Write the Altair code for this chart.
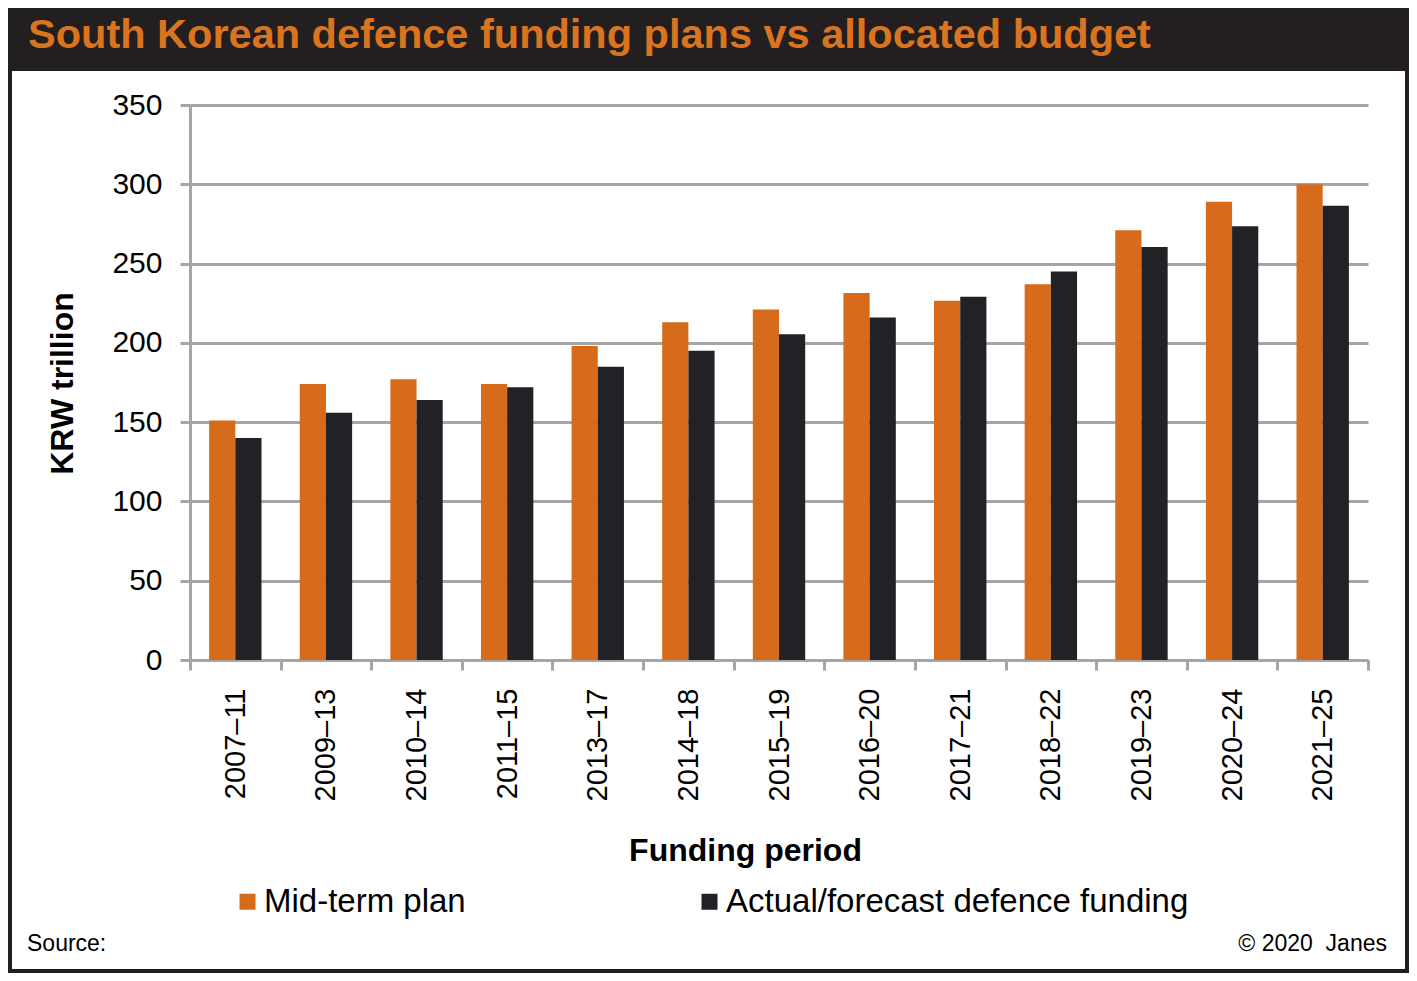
import altair as alt
import pandas as pd

periods = ["2007–11", "2009–13", "2010–14", "2011–15", "2013–17", "2014–18", "2015–19",
           "2016–20", "2017–21", "2018–22", "2019–23", "2020–24", "2021–25"]
series_names = ["Mid-term plan", "Actual/forecast defence funding"]
mid_term_plan = [151, 174, 177, 174, 198, 213, 221, 231.5, 226.5, 237, 271, 289, 300]
actual_funding = [140, 156, 164, 172, 185, 195, 205.5, 216, 229, 245, 260.5, 273.5, 286.5]
y_ticks = [0, 50, 100, 150, 200, 250, 300, 350]

title_text = "South Korean defence funding plans vs allocated budget"
source_text = "Source:"
copyright_text = "© 2020\u00a0 Janes"

ORANGE = "#D56B1B"
TITLE_ORANGE = "#DA741F"
DARK = "#222226"
GRID = "#A6A6A6"
FONT = "Liberation Sans"

rows = []
for p, a, b in zip(periods, mid_term_plan, actual_funding):
    rows.append({"period": p, "series": series_names[0], "value": a})
    rows.append({"period": p, "series": series_names[1], "value": b})
df = pd.DataFrame(rows)
one = pd.DataFrame({"k": [0]})

W, H = 1178, 555

bars = alt.Chart(df).mark_bar().encode(
    x=alt.X("period:N", sort=periods,
            scale=alt.Scale(paddingInner=0, paddingOuter=0),
            axis=alt.Axis(title="Funding period", labelAngle=-90, labelFontSize=29,
                          labelFont=FONT, labelColor="black", labelPadding=18,
                          tickBand="extent", tickSize=10, tickWidth=3, tickColor=GRID,
                          domainColor=GRID, domainWidth=3, grid=False,
                          titleFont=FONT, titleFontSize=32, titleFontWeight="bold",
                          titleColor="black", titleX=555, titleY=200,
                          titleBaseline="alphabetic", titleAlign="center")),
    xOffset=alt.XOffset("series:N", sort=series_names,
                        scale=alt.Scale(paddingOuter=0.73, paddingInner=0)),
    y=alt.Y("value:Q", scale=alt.Scale(domain=[0, 350], nice=False),
            axis=alt.Axis(title="KRW trillion", values=y_ticks, labelFontSize=30,
                          labelFont=FONT, labelColor="black", labelPadding=18,
                          tickSize=10, tickWidth=3, tickColor=GRID,
                          domainColor=GRID, domainWidth=3,
                          grid=True, gridColor=GRID, gridWidth=3,
                          titleFont=FONT, titleFontSize=32, titleFontWeight="bold",
                          titleColor="black", titleX=-118, titleY=278,
                          titleAngle=-90, titleBaseline="alphabetic", titleAlign="center")),
    color=alt.Color("series:N",
                    scale=alt.Scale(domain=series_names, range=[ORANGE, DARK]),
                    legend=alt.Legend(orient="none", legendX=41, legendY=780,
                                      direction="horizontal", title=None,
                                      symbolType="square", symbolSize=256,
                                      symbolStrokeWidth=0, symbolOpacity=1,
                                      labelFontSize=33, labelFont=FONT, labelColor="black",
                                      labelOffset=0, columnPadding=227, padding=0,
                                      labelLimit=0)),
)

title_bar = alt.Chart(one).mark_rect(color="#231F20").encode(
    x=alt.value(-182), x2=alt.value(1219), y=alt.value(-97), y2=alt.value(-34))

border = alt.Chart(one).mark_rect(fill=None, stroke="#231F20", strokeWidth=4).encode(
    x=alt.value(-180), x2=alt.value(1217), y=alt.value(-95), y2=alt.value(866))

title = alt.Chart(one).mark_text(align="left", baseline="alphabetic", font=FONT,
                                 fontSize=41.5, fontWeight="bold", color=TITLE_ORANGE).encode(
    x=alt.value(-162), y=alt.value(-57), text=alt.value(title_text))

source = alt.Chart(one).mark_text(align="left", baseline="alphabetic", font=FONT,
                                  fontSize=23, color="black").encode(
    x=alt.value(-163), y=alt.value(846), text=alt.value(source_text))

copyright_ = alt.Chart(one).mark_text(align="right", baseline="alphabetic", font=FONT,
                                      fontSize=23, color="black").encode(
    x=alt.value(1197), y=alt.value(846), text=alt.value(copyright_text))

chart = alt.layer(title_bar, border, bars, title, source, copyright_).properties(
    width=W, height=H,
    autosize=alt.AutoSizeParams(type="none"),
    padding={"left": 182, "top": 97, "right": 41, "bottom": 313},
    background="white",
).configure_view(stroke=None)

chart.save("out.html", embed_options={"renderer": "svg", "actions": False})
